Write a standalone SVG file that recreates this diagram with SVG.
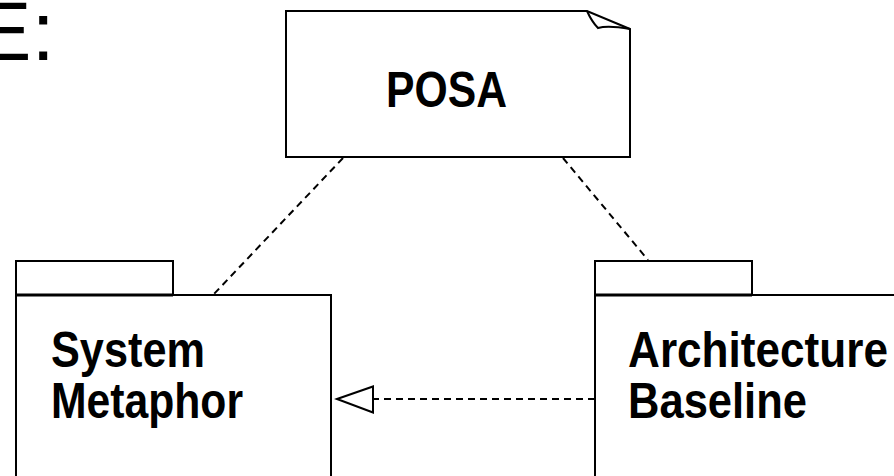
<svg xmlns="http://www.w3.org/2000/svg" width="894" height="476" viewBox="0 0 894 476">
<style>
.shape{fill:#fff;stroke:#000;stroke-width:2}
.lbl{font-family:"Liberation Sans",Arial,sans-serif;font-weight:bold;font-size:50px;fill:#000}
.dash{fill:none;stroke:#000;stroke-width:2;stroke-dasharray:7 5}
</style>
<defs>
<marker id="open" markerUnits="userSpaceOnUse" markerWidth="40" markerHeight="30" refX="1" refY="14" orient="auto-start-reverse" viewBox="0 0 40 30">
<path d="M1,14 L37,1 L37,27 Z" fill="#fff" stroke="#000" stroke-width="2"/>
</marker>
</defs>
<text x="-24.6" y="60" font-family="'Liberation Sans',Arial,sans-serif" font-size="84" fill="#000">E:</text>
<g id="connectors">
<line class="dash" x1="343" y1="158" x2="213" y2="295"/>
<line class="dash" x1="563" y1="158" x2="648" y2="260"/>
<line class="dash" x1="595" y1="399" x2="373" y2="399"/>
<path d="M337,399 L373,386.5 L373,412.5 Z" fill="#fff" stroke="#000" stroke-width="2"/>
</g>
<g id="posa">
<path class="shape" d="M286,11 L587,11 L630,29 L630,157 L286,157 Z"/>
<path d="M587,11 Q592,22 598,28 Q608,25 630,29" fill="none" stroke="#000" stroke-width="2"/>
<text class="lbl" x="386" y="107" font-size="51" textLength="121" lengthAdjust="spacingAndGlyphs">POSA</text>
</g>
<g id="system-metaphor">
<rect class="shape" x="16" y="261" width="157" height="34"/>
<rect class="shape" x="16" y="295" width="315" height="200"/>
<line x1="16" y1="295" x2="173" y2="295" stroke="#000" stroke-width="3"/>
<text class="lbl" x="51" y="367" textLength="154" lengthAdjust="spacingAndGlyphs">System</text>
<text class="lbl" x="51" y="418" textLength="192" lengthAdjust="spacingAndGlyphs">Metaphor</text>
</g>
<g id="architecture-baseline">
<rect class="shape" x="595" y="261" width="157" height="34"/>
<rect class="shape" x="595" y="295" width="320" height="200"/>
<line x1="595" y1="295" x2="752" y2="295" stroke="#000" stroke-width="3"/>
<text class="lbl" x="628" y="367" textLength="260" lengthAdjust="spacingAndGlyphs">Architecture</text>
<text class="lbl" x="628" y="418" textLength="179" lengthAdjust="spacingAndGlyphs">Baseline</text>
</g>
</svg>
